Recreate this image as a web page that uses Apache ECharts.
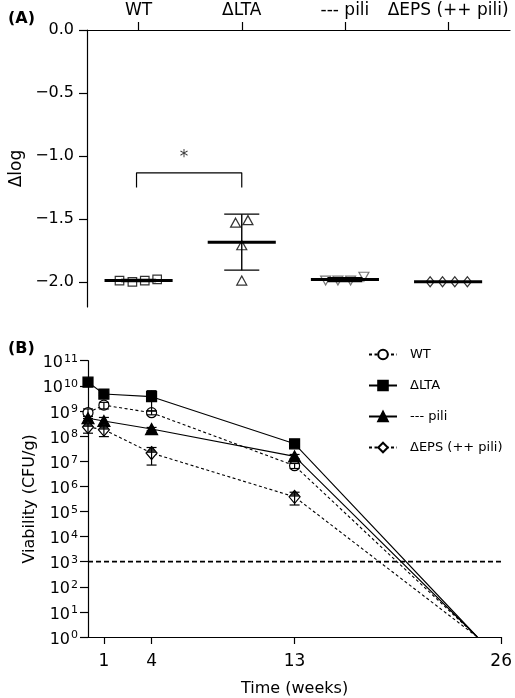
<!DOCTYPE html>
<html>
<head>
<meta charset="utf-8">
<script src="https://cdn.jsdelivr.net/npm/echarts@6/dist/echarts.min.js"></script>
<style>html,body{margin:0;padding:0;background:#fff}#c{width:515px;height:698px}</style>
</head>
<body>
<div id="c"></div>
<script>
// ---------- Panel A data ----------
const groupsA = ['WT', 'ΔLTA', '--- pili', 'ΔEPS (++ pili)'];
const dlogWT = [-1.99, -2.00, -1.99, -1.98];
const dlogLTA = [-1.53, -1.51, -1.71, -1.99];
const dlogPili = [-1.99, -1.99, -1.99, -1.96];
const dlogEPS = [-2.00, -2.00, -2.00, -2.00];
const ticksA = [0, -0.5, -1.0, -1.5, -2.0];
const sigLabel = '*';

// ---------- Panel B data ----------
const weeks = [0, 1, 4, 13, 24.5];
const cfuWT = [8.5e8, 1.7e9, 8.5e8, 6.6e6, 1];
const sdWT = [3.5e8, 5e8, 1.5e8, 1.5e6, 0];
const cfuLTA = [1.4e10, 4.7e9, 3.7e9, 4.9e7, 1];
const sdLTA = [2e9, 5e8, 2.7e9, 5e6, 0];
const cfuPili = [5.1e8, 4.0e8, 1.9e8, 1.55e7, 1];
const sdPili = [1e8, 1.5e8, 3e7, 3e6, 0];
const cfuEPS = [2.3e8, 1.8e8, 2.1e7, 3.8e5, 1];
const sdEPS = [1e8, 8.5e7, 1.4e7, 2e5, 0];
const detectionLimit = 1e3;
const tickWeeks = [1, 4, 13, 26];
const namesB = ['WT', 'ΔLTA', '--- pili', 'ΔEPS (++ pili)'];

// ---------- style constants ----------
const FONT = 'DejaVu Sans';
const jitterA = [
  [-0.185, -0.06, 0.06, 0.18],
  [-0.06, 0.06, 0, 0],
  [-0.187, -0.068, 0.055, 0.184],
  [-0.174, -0.054, 0.065, 0.187]
];
const dlogAll = [dlogWT, dlogLTA, dlogPili, dlogEPS];

function mean(a) { return a.reduce((s, v) => s + v, 0) / a.length; }
function sd(a) { const m = mean(a); return Math.sqrt(a.reduce((s, v) => s + (v - m) * (v - m), 0) / (a.length - 1)); }

const statsA = dlogAll.map((a, g) => [g + 1, mean(a), sd(a)]);

const symA = [
  { symbol: 'rect', size: 8.5, rotate: 0, color: '#000' },
  { symbol: 'triangle', size: [10, 9], rotate: 0, color: '#000' },
  { symbol: 'triangle', size: [10, 9], rotate: 180, color: '#555' },
  { symbol: 'diamond', size: [8, 10], rotate: 0, color: '#000' }
];

const seriesA = dlogAll.map((arr, g) => ({
  type: 'scatter', xAxisIndex: 0, yAxisIndex: 0, name: 'A' + g,
  data: arr.map((v, i) => [g + 1 + jitterA[g][i], v]),
  symbol: symA[g].symbol, symbolSize: symA[g].size, symbolRotate: symA[g].rotate,
  itemStyle: { color: 'rgba(0,0,0,0)', borderColor: symA[g].color, borderWidth: 1.2 },
  silent: true, z: 2
}));

seriesA.push({
  type: 'custom', xAxisIndex: 0, yAxisIndex: 0, silent: true, z: 4,
  data: statsA,
  renderItem: function (params, api) {
    const x = api.value(0), m = api.value(1), s = api.value(2);
    const l = api.coord([x - 0.33, m]), r = api.coord([x + 0.33, m]);
    const top = api.coord([x, m + s]), bot = api.coord([x, m - s]);
    const cl = api.coord([x - 0.17, m]), cr = api.coord([x + 0.17, m]);
    const st = { stroke: '#000', lineWidth: 1.4 };
    return {
      type: 'group', children: [
        { type: 'line', shape: { x1: top[0], y1: top[1], x2: bot[0], y2: bot[1] }, style: st },
        { type: 'line', shape: { x1: cl[0], y1: top[1], x2: cr[0], y2: top[1] }, style: st },
        { type: 'line', shape: { x1: cl[0], y1: bot[1], x2: cr[0], y2: bot[1] }, style: st },
        { type: 'line', shape: { x1: l[0], y1: l[1], x2: r[0], y2: r[1] }, style: { stroke: '#000', lineWidth: 3 } }
      ]
    };
  }
});

// significance bracket WT vs ΔLTA
seriesA.push({
  type: 'line', xAxisIndex: 0, yAxisIndex: 0, silent: true, symbol: 'none',
  data: [[0.98, -1.25], [0.98, -1.134], [2, -1.134], [2, -1.25]],
  lineStyle: { color: '#000', width: 1.2 }
});
seriesA.push({
  type: 'scatter', xAxisIndex: 0, yAxisIndex: 0, silent: true, symbolSize: 0,
  data: [[1.44, -1.01]],
  label: { show: true, position: 'inside', formatter: sigLabel, fontSize: 17, fontFamily: FONT, color: '#000' }
});

// ---------- Panel B series ----------
const cfuAll = [cfuWT, cfuLTA, cfuPili, cfuEPS];
const sdAll = [sdWT, sdLTA, sdPili, sdEPS];
const symB = [
  { symbol: 'circle', size: 10, fill: '#fff', dash: [3, 2.5] },
  { symbol: 'rect', size: 10, fill: '#000', dash: 'solid' },
  { symbol: 'triangle', size: [12, 11], fill: '#000', dash: 'solid' },
  { symbol: 'diamond', size: [11, 13], fill: '#fff', dash: [3, 2.5] }
];

const seriesB = cfuAll.map((arr, g) => ({
  type: 'line', xAxisIndex: 1, yAxisIndex: 1, name: namesB[g],
  data: arr.map((v, i) => (i === arr.length - 1 ? { value: [weeks[i], v], symbol: 'none' } : [weeks[i], v])),
  symbol: symB[g].symbol, symbolSize: symB[g].size, showSymbol: true, showAllSymbol: true,
  itemStyle: { color: symB[g].fill, borderColor: '#000', borderWidth: 1.2 },
  lineStyle: { color: '#000', width: 1.1, type: symB[g].dash },
  silent: true, z: 2
}));

// top half fill of ΔEPS diamonds
seriesB.push({
  type: 'scatter', xAxisIndex: 1, yAxisIndex: 1, silent: true, z: 3,
  data: cfuEPS.slice(0, cfuEPS.length - 1).map((v, i) => [weeks[i], v]),
  symbol: 'path://M5,0 L10,6 L0,6 Z M5,12 L5.01,12',
  symbolSize: [11, 13],
  itemStyle: { color: '#000' }
});

// error bars B
const errB = [];
cfuAll.forEach((arr, g) => arr.forEach((v, i) => {
  if (sdAll[g][i] > 0) errB.push([weeks[i], v - sdAll[g][i], v + sdAll[g][i]]);
}));
seriesB.push({
  type: 'custom', xAxisIndex: 1, yAxisIndex: 1, silent: true, z: 4,
  data: errB,
  renderItem: function (params, api) {
    const x = api.value(0);
    const lo = api.coord([x, api.value(1)]), hi = api.coord([x, api.value(2)]);
    const st = { stroke: '#000', lineWidth: 1.2 };
    return {
      type: 'group', children: [
        { type: 'line', shape: { x1: lo[0], y1: lo[1], x2: hi[0], y2: hi[1] }, style: st },
        { type: 'line', shape: { x1: lo[0] - 5, y1: lo[1], x2: lo[0] + 5, y2: lo[1] }, style: st },
        { type: 'line', shape: { x1: hi[0] - 5, y1: hi[1], x2: hi[0] + 5, y2: hi[1] }, style: st }
      ]
    };
  }
});

// detection limit
seriesB.push({
  type: 'line', xAxisIndex: 1, yAxisIndex: 1, silent: true, symbol: 'none',
  data: [[0, detectionLimit], [26, detectionLimit]],
  lineStyle: { color: '#000', width: 1.6, type: [5, 3] }, z: 1
});

const axisLineStyle = { show: true, lineStyle: { color: '#000', width: 1.2 } };
const tickStyle = { lineStyle: { color: '#000', width: 1.2 } };

const option = {
  animation: false,
  backgroundColor: '#fff',
  textStyle: { fontFamily: FONT, color: '#000' },
  grid: [
    { left: 85, top: 30, width: 425, height: 277 },
    { left: 88, top: 360.7, width: 415.3, height: 277 }
  ],
  xAxis: [
    {
      type: 'value', gridIndex: 0, position: 'top', min: 0.5, max: 4.6,
      axisLine: Object.assign({ onZero: false }, axisLineStyle),
      axisTick: Object.assign({ show: true, length: 8, customValues: [1, 2, 3, 4] }, tickStyle),
      axisLabel: { customValues: [1, 2, 3, 4], formatter: v => groupsA[Math.round(v) - 1], fontSize: 17, margin: 11, color: '#000', fontFamily: FONT },
      splitLine: { show: false }
    },
    {
      type: 'value', gridIndex: 1, min: 0, max: 26,
      axisLine: Object.assign({ onZero: false }, axisLineStyle),
      axisTick: Object.assign({ show: true, length: 7, customValues: tickWeeks }, tickStyle),
      axisLabel: { customValues: tickWeeks, fontSize: 17, margin: 16, color: '#000', fontFamily: FONT },
      splitLine: { show: false },
      name: 'Time (weeks)', nameLocation: 'middle', nameGap: 44, nameMoveOverlap: false,
      nameTextStyle: { fontSize: 16, fontFamily: FONT, color: '#000' }
    }
  ],
  yAxis: [
    {
      type: 'value', gridIndex: 0, min: -2.2, max: 0,
      axisLine: axisLineStyle,
      axisTick: Object.assign({ show: true, length: 8, customValues: ticksA }, tickStyle),
      axisLabel: { customValues: ticksA, formatter: v => v.toFixed(1).replace('-', '\u2212'), fontSize: 16, margin: 13, color: '#000', fontFamily: FONT },
      splitLine: { show: false },
      name: 'Δlog', nameLocation: 'middle', nameGap: 62, nameRotate: 90, nameMoveOverlap: false,
      nameTextStyle: { fontSize: 17, fontFamily: FONT, color: '#000' }
    },
    {
      type: 'log', logBase: 10, gridIndex: 1, min: 1, max: 1e11, interval: 1,
      axisLine: axisLineStyle,
      axisTick: Object.assign({ show: true, length: 8 }, tickStyle),
      axisLabel: {
        margin: 10, color: '#000', fontFamily: FONT,
        formatter: v => '{b|10}{s|' + Math.round(Math.log10(v)) + '}',
        rich: {
          b: { fontSize: 16, lineHeight: 18, fontFamily: FONT, color: '#000', padding: [5, 0, 0, 0] },
          s: { fontSize: 11, lineHeight: 11, fontFamily: FONT, color: '#000', verticalAlign: 'top', padding: [2, 0, 0, 1] }
        }
      },
      splitLine: { show: false }, minorTick: { show: false },
      name: 'Viability (CFU/g)', nameLocation: 'middle', nameGap: 50, nameRotate: 90, nameMoveOverlap: false,
      nameTextStyle: { fontSize: 16, fontFamily: FONT, color: '#000' }
    }
  ],
  legend: {
    data: namesB, orient: 'vertical', left: 363, top: 343,
    itemWidth: 28, itemHeight: 12, itemGap: 18,
    textStyle: { fontSize: 13, fontFamily: FONT, color: '#000', padding: [0, 0, 0, 8] },
    selectedMode: false
  },
  graphic: [
    { type: 'text', left: 8, top: 11, style: { text: '(A)', font: 'bold 16px "DejaVu Sans"', fill: '#000' } },
    { type: 'text', left: 8, top: 341, style: { text: '(B)', font: 'bold 16px "DejaVu Sans"', fill: '#000' } }
  ],
  series: seriesA.concat(seriesB)
};

const chart = echarts.init(document.getElementById('c'), null, { renderer: 'canvas' });
chart.setOption(option);
</script>
</body>
</html>
